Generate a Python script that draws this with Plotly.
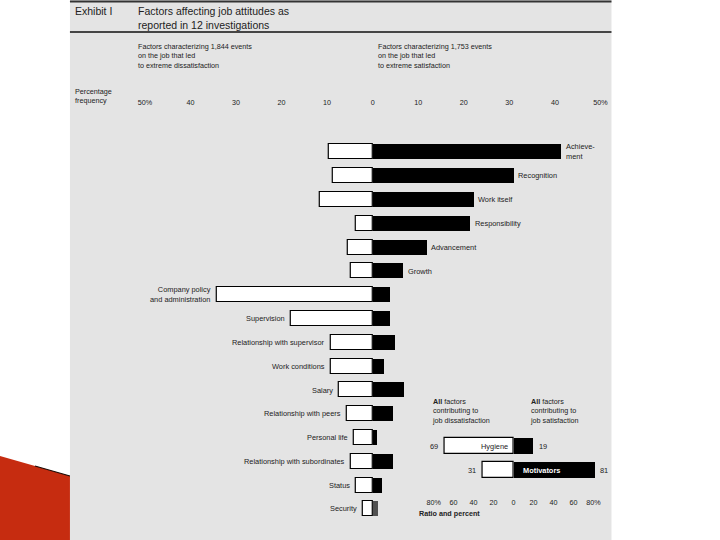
import plotly.graph_objects as go

factors = ["Achievement", "Recognition", "Work itself", "Responsibility", "Advancement", "Growth",
           "Company policy and administration", "Supervision", "Relationship with supervisor",
           "Work conditions", "Salary", "Relationship with peers", "Personal life",
           "Relationship with subordinates", "Status", "Security"]
factor_labels = ["Achieve-<br>ment", "Recognition", "Work itself", "Responsibility", "Advancement", "Growth",
                 "Company policy<br>and administration", "Supervision", "Relationship with supervisor",
                 "Work conditions", "Salary", "Relationship with peers", "Personal life",
                 "Relationship with subordinates", "Status", "Security"]
dissat = [9.6, 8.7, 11.6, 3.7, 5.4, 4.8, 34.1, 18.0, 9.1, 9.1, 7.5, 5.6, 4.1, 4.8, 3.6, 2.1]
sat = [41.4, 30.9, 22.1, 21.3, 11.8, 6.7, 3.7, 3.7, 4.8, 2.4, 6.8, 4.4, 0.9, 4.4, 2.0, 1.2]
n_motivators = 6

main_tickvals = [-50, -40, -30, -20, -10, 0, 10, 20, 30, 40, 50]
main_ticktext = ["50%", "40", "30", "20", "10", "0", "10", "20", "30", "40", "50%"]

summary_groups = ["Hygiene", "Motivators"]
summary_dissat = [69, 31]
summary_sat = [19, 81]
inset_tickvals = [-80, -60, -40, -20, 0, 20, 40, 60, 80]
inset_ticktext = ["80%", "60", "40", "20", "0", "20", "40", "60", "80%"]

W, H = 720, 540
def px(x): return ((x - 7) / 0.98) / W
def py(y): return 1 - y / H

FONT = "Liberation Sans, Arial, sans-serif"
TXT = "#222222"
LS = 7.4
ypos = list(range(len(factors)))
sat_colors = ["black"] * (len(factors) - 1) + ["#505050"]

fig = go.Figure()
fig.add_trace(go.Bar(y=ypos, x=[-v for v in dissat], orientation="h", base=0, width=0.63,
                     marker=dict(color="white", line=dict(color="black", width=1.2)),
                     xaxis="x", yaxis="y", showlegend=False, hoverinfo="skip"))
fig.add_trace(go.Bar(y=ypos, x=sat, orientation="h", base=0, width=0.63,
                     marker=dict(color=sat_colors, line=dict(width=0)),
                     xaxis="x", yaxis="y", showlegend=False, hoverinfo="skip"))
fig.add_trace(go.Bar(y=[0, 1], x=[-v for v in summary_dissat], orientation="h", base=0, width=0.67,
                     marker=dict(color="white", line=dict(color="black", width=1.2)),
                     xaxis="x2", yaxis="y2", showlegend=False, hoverinfo="skip"))
fig.add_trace(go.Bar(y=[0, 1], x=summary_sat, orientation="h", base=0, width=0.67,
                     marker=dict(color="black", line=dict(width=0)),
                     xaxis="x2", yaxis="y2", showlegend=False, hoverinfo="skip"))

ann = []
for i, lab in enumerate(factor_labels):
    if i < n_motivators:
        ann.append(dict(x=sat[i], y=i, xref="x", yref="y", text=lab, showarrow=False,
                        xanchor="left", align="left", xshift=3, font=dict(size=LS, color=TXT, family=FONT)))
    else:
        ann.append(dict(x=-dissat[i], y=i, xref="x", yref="y", text=lab, showarrow=False,
                        xanchor="right", align="right", xshift=-4, font=dict(size=LS, color=TXT, family=FONT)))

for i, g in enumerate(summary_groups):
    ann.append(dict(x=-summary_dissat[i], y=i, xref="x2", yref="y2", text=str(summary_dissat[i]),
                    showarrow=False, xanchor="right", xshift=-5, font=dict(size=LS, color=TXT, family=FONT)))
    ann.append(dict(x=summary_sat[i], y=i, xref="x2", yref="y2", text=str(summary_sat[i]),
                    showarrow=False, xanchor="left", xshift=4, font=dict(size=LS, color=TXT, family=FONT)))
ann.append(dict(x=-19, y=0, xref="x2", yref="y2", text="Hygiene", showarrow=False,
                font=dict(size=LS, color=TXT, family=FONT)))
ann.append(dict(x=28, y=1, xref="x2", yref="y2", text="<b>Motivators</b>", showarrow=False,
                font=dict(size=LS, color="white", family=FONT)))

def text(x, y, s, size=7, anchor="left"):
    ann.append(dict(x=px(x), y=py(y), xref="paper", yref="paper", text=s, showarrow=False,
                    xanchor=anchor, yanchor="top", align="left",
                    font=dict(size=size, color=TXT, family=FONT)))

text(73, 3, "Exhibit I", size=10.5)
text(136, 3, "Factors affecting job attitudes as<br>reported in 12 investigations", size=10.5)
text(136, 40, "Factors characterizing 1,844 events<br>on the job that led<br>to extreme dissatisfaction", size=7.2)
text(376, 40, "Factors characterizing 1,753 events<br>on the job that led<br>to extreme satisfaction", size=7.2)
text(73, 85, "Percentage<br>frequency", size=7.2)
text(430, 395, "<b>All</b> factors<br>contributing to<br>job dissatisfaction", size=7.2)
text(528, 395, "<b>All</b> factors<br>contributing to<br>job satisfaction", size=7.2)
text(417, 507, "<b>Ratio and percent</b>", size=7.2)

shapes = [
    dict(type="rect", xref="paper", yref="paper", x0=px(70), x1=px(612), y0=0, y1=1,
         fillcolor="#e4e4e4", line=dict(width=0), layer="below"),
    dict(type="line", xref="paper", yref="paper", x0=px(70), x1=px(612), y0=py(1.5), y1=py(1.5),
         line=dict(color="#333", width=2)),
    dict(type="line", xref="paper", yref="paper", x0=px(70), x1=px(612), y0=py(32), y1=py(32),
         line=dict(color="#111", width=1.3)),
    dict(type="path", xref="paper", yref="paper",
         path=f"M {px(0)} {py(456)} L {px(70)} {py(476)} L {px(70)} 0 L {px(0)} 0 Z",
         fillcolor="#c62c10", line=dict(width=0), layer="above"),
    dict(type="line", xref="paper", yref="paper", x0=px(35), x1=px(70), y0=py(466), y1=py(476),
         line=dict(color="#1a0a05", width=1.2)),
]

fig.update_layout(
    width=W, height=H, margin=dict(l=0, r=0, t=0, b=0),
    paper_bgcolor="white", plot_bgcolor="rgba(0,0,0,0)",
    barmode="overlay", bargap=0,
    xaxis=dict(domain=[px(145), px(601)], range=[-50, 50], anchor="free", position=py(97),
               side="bottom", tickvals=main_tickvals, ticktext=main_ticktext, showgrid=False,
               zeroline=False, showline=False, ticks="", tickfont=dict(size=7.2, color=TXT, family=FONT)),
    yaxis=dict(domain=[py(520.9), py(140.1)], range=[15.5, -0.5], visible=False),
    xaxis2=dict(domain=[px(424), px(604)], range=[-90, 90], anchor="free", position=py(497),
                side="bottom", tickvals=inset_tickvals, ticktext=inset_ticktext, showgrid=False,
                zeroline=False, showline=False, ticks="", tickfont=dict(size=7.2, color=TXT, family=FONT)),
    yaxis2=dict(domain=[py(482), py(434)], range=[1.5, -0.5], visible=False, anchor="x2"),
    annotations=ann, shapes=shapes,
)
fig.write_html("out.html", config={"displayModeBar": False},
               post_script="document.body.style.margin='0';document.body.style.overflow='hidden';")
